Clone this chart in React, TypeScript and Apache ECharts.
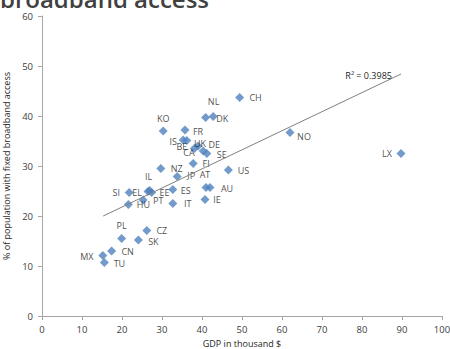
import React, { useEffect, useRef } from "react";
import * as echarts from "echarts";

const countries = ["CH","NL","DK","KO","FR","IS","BE","UK","CA","DE","SE","FI","NO","LX","NZ","US","JP","AT","AU","SI","EL","IL","EE","ES","HU","PT","IT","IE","PL","CZ","SK","CN","MX","TU"];
const gdp = [49.4,40.9,42.8,30.3,35.75,35.3,36.2,39.0,38.1,40.3,41.2,37.8,62.0,89.75,29.7,46.6,33.8,41.0,42.0,21.8,26.5,26.9,27.4,32.7,21.6,25.3,32.7,40.75,19.9,26.2,24.1,17.4,15.2,15.6];
const broadband = [43.7,39.7,39.9,37.0,37.2,35.2,35.1,34.0,33.5,33.0,32.5,30.5,36.7,32.5,29.5,29.2,27.9,25.7,25.7,24.7,24.9,25.1,24.7,25.3,22.3,23.2,22.5,23.3,15.5,17.1,15.2,13.0,12.1,10.7];
const trendX = [15.3, 89.75];
const trendY = [20.0, 48.4];
const rSquared = "R² = 0.3985";
const xTicks = [0, 10, 20, 30, 40, 50, 60, 70, 80, 90, 100];
const yTicks = [0, 10, 20, 30, 40, 50, 60];

// label offsets (style only): [dx, dy] from the marker centre
const labelOffsets: Record<string, [number, number]> = {
  CH: [16, 0], NL: [8, -16], DK: [9, 2], KO: [0, -13], FR: [13, 1], IS: [-10, 1],
  BE: [-5, 6], UK: [2, -3], CA: [-5.5, 4], DE: [11, -7], SE: [15, 1], FI: [13, 0],
  NO: [14, 4], LX: [-14, 0], NZ: [16, 0], US: [15, 0], JP: [14, -1], AT: [-1, -13],
  AU: [17, 1], SI: [-13, 0], EL: [-11, 1], IL: [-1, -14], EE: [13, 0], ES: [13, 1],
  HU: [15, 0], PT: [15, 0], IT: [15, 0], IE: [12, 0], PL: [0, -13], CZ: [15, 0],
  SK: [15, 1], CN: [16, 0], MX: [-16, 1], TU: [15, 1],
};

const FONT = "'Open Sans', 'Noto Sans', sans-serif";

export default function App() {
  const ref = useRef<HTMLDivElement>(null);
  useEffect(() => {
    if (!ref.current) return;
    const chart = echarts.init(ref.current, undefined, { renderer: "svg" });
    const scatterData = countries.map((c, i) => ({
      name: c,
      value: [gdp[i], broadband[i]],
      label: {
        show: true,
        position: "inside",
        offset: labelOffsets[c] || [12, 0],
        formatter: c,
      },
    }));
    const trendData: any[] = trendX.map((x, i) => ({ value: [x, trendY[i]] }));
    trendData[trendData.length - 1].label = {
      show: true,
      position: "left",
      distance: 9,
      offset: [0, 1],
      formatter: rSquared,
      color: "#262626",
      fontSize: 9,
      fontFamily: FONT,
    };
    const axisCommon = {
      axisLine: { show: true, lineStyle: { color: "#a6a6a6", width: 1 } },
      axisTick: { show: true, length: 4, lineStyle: { color: "#a6a6a6" } },
      splitLine: { show: false },
      axisLabel: { color: "#404040", fontSize: 9.5, fontFamily: FONT },
      nameTextStyle: { color: "#262626", fontSize: 9, fontFamily: FONT },
    };
    chart.setOption({
      animation: false,
      backgroundColor: "#ffffff",
      grid: {
        left: 42,
        right: 8,
        top: 16,
        bottom: 33,
        containLabel: false,
        outerBoundsMode: "none",
      },
      xAxis: {
        type: "value",
        min: xTicks[0],
        max: xTicks[xTicks.length - 1],
        interval: 10,
        name: "GDP in thousand $",
        nameLocation: "middle",
        nameGap: 23,
        ...axisCommon,
        axisLabel: { ...axisCommon.axisLabel, margin: 8 },
      },
      yAxis: {
        type: "value",
        min: yTicks[0],
        max: yTicks[yTicks.length - 1],
        interval: 10,
        name: "% of population with fixed broadband access",
        nameLocation: "middle",
        nameGap: 24,
        ...axisCommon,
        axisLabel: { ...axisCommon.axisLabel, margin: 9 },
      },
      graphic: [
        {
          type: "text",
          left: 0,
          top: -14,
          style: {
            text: "broadband access",
            fill: "#404040",
            font: `600 24px ${FONT}`,
          },
        },
      ],
      series: [
        {
          type: "scatter",
          symbol: "diamond",
          symbolSize: 9,
          itemStyle: { color: "#4f81bd" },
          label: { color: "#1a1a1a", fontSize: 9, fontFamily: FONT },
          data: scatterData,
          z: 2,
        },
        {
          type: "line",
          symbol: "circle",
          symbolSize: 0.1,
          showSymbol: true,
          itemStyle: { color: "rgba(0,0,0,0)" },
          lineStyle: { color: "#808080", width: 1 },
          data: trendData,
          z: 3,
          silent: true,
        },
      ],
    });
    return () => chart.dispose();
  }, []);
  return (
    <div
      ref={ref}
      style={{ position: "fixed", left: 0, top: 0, width: 450, height: 349 }}
    />
  );
}
